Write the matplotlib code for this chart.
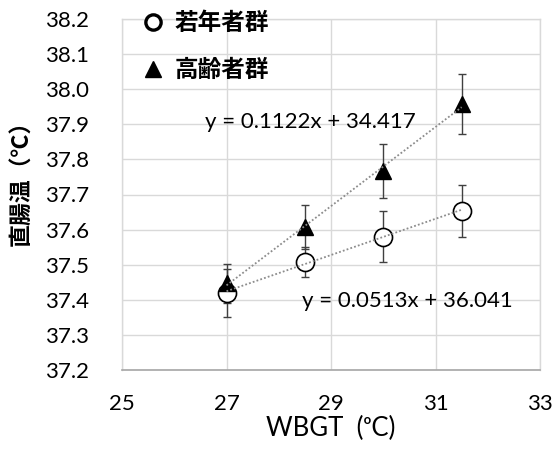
import numpy as np
import matplotlib
matplotlib.use("Agg")
import matplotlib.pyplot as plt
from matplotlib.lines import Line2D

# Data
wbgt = [27.0, 28.5, 30.0, 31.5]
young_mean = [37.42, 37.508, 37.58, 37.654]
young_err = [0.068, 0.042, 0.073, 0.074]
old_mean = [37.447, 37.608, 37.767, 37.958]
old_err = [0.055, 0.062, 0.078, 0.085]
young_label = "若年者群"
old_label = "高齢者群"
young_eq = "y = 0.0513x + 36.041"
old_eq = "y = 0.1122x + 34.417"
xticks = [25, 27, 29, 31, 33]
yticks = [37.2, 37.3, 37.4, 37.5, 37.6, 37.7, 37.8, 37.9, 38.0, 38.1, 38.2]

num_font = ["Lato", "DejaVu Sans"]
cjk_font = ["Noto Sans CJK JP", "DejaVu Sans"]

fig = plt.figure(figsize=(5.54, 4.49), dpi=100)
ax = fig.add_axes([122/554, 1-370/449, (540-122)/554, (370-19)/449])

grid_c = "#d9d9d9"
ax.set_xlim(25, 33)
ax.set_ylim(37.2, 38.2)
ax.set_xticks(xticks)
ax.set_yticks(yticks)
ax.grid(True, color=grid_c, lw=1.0, zorder=0)
ax.set_axisbelow(True)
for s in ["top", "right", "left"]:
    ax.spines[s].set_color(grid_c)
    ax.spines[s].set_linewidth(1.0)
ax.spines["bottom"].set_color("#a6a6a6")
ax.spines["bottom"].set_linewidth(1.2)
ax.tick_params(length=0, labelsize=16, colors="#000000")
ax.tick_params(axis="y", pad=24)
ax.tick_params(axis="x", pad=17)
ax.set_yticklabels([f"{v:.1f}" for v in yticks], family=num_font)
ax.set_xticklabels([str(v) for v in xticks], family=num_font)

# error bars
ax.errorbar(wbgt, young_mean, yerr=young_err, fmt="none", ecolor="#404040",
            elinewidth=1.0, capsize=3, capthick=1.0, zorder=2)
ax.errorbar(wbgt, old_mean, yerr=old_err, fmt="none", ecolor="#404040",
            elinewidth=1.0, capsize=3, capthick=1.0, zorder=2)

# markers
ax.plot(wbgt, young_mean, ls="none", marker="o", ms=13, mfc="white",
        mec="black", mew=1.2, zorder=3)
ax.plot(wbgt, old_mean, ls="none", marker="^", ms=12, mfc="black",
        mec="black", mew=1.0, zorder=4)

# trend lines (linear fits)
xs = np.array([wbgt[0], wbgt[-1]])
for m in (young_mean, old_mean):
    k, b = np.polyfit(wbgt, m, 1)
    ax.plot(xs, k*xs + b, color="#8c8c8c", lw=1.3, ls=(0, (1, 1.2)), zorder=5)

ax.text(28.6, 37.906, old_eq, fontsize=16, family=num_font, ha="center", va="center", zorder=6)
ax.text(30.46, 37.397, young_eq, fontsize=16, family=num_font, ha="center", va="center", zorder=6)

# legend
handles = [
    Line2D([], [], ls="none", marker="o", ms=11, mfc="white", mec="black", mew=2.4),
    Line2D([], [], ls="none", marker="^", ms=11.5, mfc="black", mec="black"),
]
leg = ax.legend(handles, [young_label, old_label], loc="upper left",
                bbox_to_anchor=(-0.005, 1.084), frameon=False, handlelength=1.0,
                handletextpad=0.4, labelspacing=1.0,
                prop={"family": cjk_font, "weight": "bold", "size": 17})

ax.set_ylabel("直腸温（℃）", family=cjk_font, fontweight="bold", fontsize=16.5)
ax.yaxis.set_label_coords(-0.213, 0.55)
ax.set_xlabel("WBGT  (ᵒC)", family=num_font, fontsize=18.5)
ax.xaxis.set_label_coords(0.5, -0.13)

fig.savefig("out.png", dpi=100)
